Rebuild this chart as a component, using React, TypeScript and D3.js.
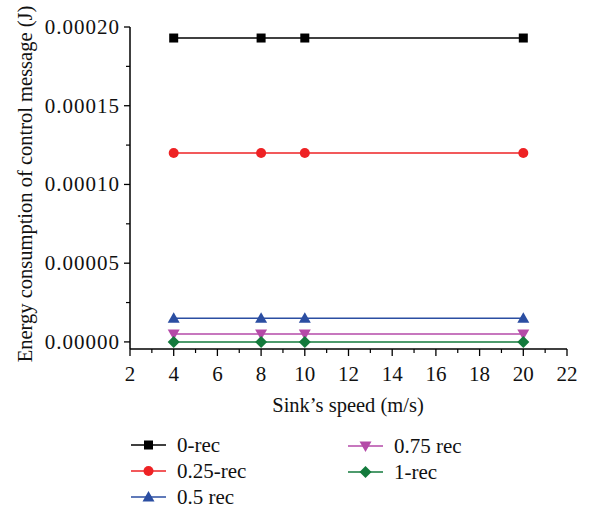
import React from "react";
import * as d3 from "d3";

const speeds = [4, 8, 10, 20];
const seriesNames = ["0-rec", "0.25-rec", "0.5 rec", "0.75 rec", "1-rec"];
const rec0 = [0.000193, 0.000193, 0.000193, 0.000193];
const rec025 = [0.00012, 0.00012, 0.00012, 0.00012];
const rec05 = [0.000015, 0.000015, 0.000015, 0.000015];
const rec075 = [0.000005, 0.000005, 0.000005, 0.000005];
const rec1 = [0, 0, 0, 0];
const xTicks = [2, 4, 6, 8, 10, 12, 14, 16, 18, 20, 22];
const yTicks = [0, 0.00005, 0.0001, 0.00015, 0.0002];

const colors = ["#000000", "#ee2224", "#2b4ea2", "#b54aa8", "#137a3c"];
const symbols = ["square", "circle", "triangle", "triangleDown", "diamond"];

const W = 589, H = 512;
const left = 130, right = 567, top = 27, bottom = 349;
const FONT = "'Liberation Serif', 'Times New Roman', serif";

function Marker({ type, x, y, color }: { type: string; x: number; y: number; color: string }) {
  if (type === "square") return <rect x={x - 4.5} y={y - 4.5} width={9} height={9} fill={color} />;
  if (type === "circle") return <circle cx={x} cy={y} r={5} fill={color} />;
  if (type === "triangle")
    return <path d={`M${x},${y - 6} L${x + 6},${y + 4.5} L${x - 6},${y + 4.5} Z`} fill={color} />;
  if (type === "triangleDown")
    return <path d={`M${x},${y + 6} L${x + 6},${y - 4.5} L${x - 6},${y - 4.5} Z`} fill={color} />;
  return <path d={`M${x},${y - 6} L${x + 6},${y} L${x},${y + 6} L${x - 6},${y} Z`} fill={color} />;
}

export default function App() {
  const x = d3.scaleLinear().domain([2, 22]).range([left, right]);
  const y = d3.scaleLinear().domain([-0.0000045, 0.0002]).range([bottom, top]);
  const data = [rec0, rec025, rec05, rec075, rec1];
  const line = d3.line<number>().x((_, i) => x(speeds[i])).y((d) => y(d));
  const minorX = d3.range(3, 22, 2);
  const minorY = [0.000025, 0.000075, 0.000125, 0.000175];

  const legendItems = [
    { i: 0, lx: 131, ly: 445 },
    { i: 1, lx: 131, ly: 471 },
    { i: 2, lx: 131, ly: 497 },
    { i: 3, lx: 348, ly: 446 },
    { i: 4, lx: 348, ly: 472 },
  ];

  return (
    <svg width={W} height={H} style={{ position: "absolute", left: 0, top: 0, background: "#fff" }} fontFamily={FONT}>
      <rect width={W} height={H} fill="#fff" />
      <line x1={left} x2={left} y1={top} y2={bottom} stroke="#000" strokeWidth={1.5} />
      <line x1={left} x2={right} y1={bottom} y2={bottom} stroke="#000" strokeWidth={1.5} />
      {xTicks.map((t) => (
        <g key={"xt" + t}>
          <line x1={x(t)} x2={x(t)} y1={bottom} y2={bottom + 7} stroke="#000" strokeWidth={1.3} />
          <text x={x(t)} y={bottom + 32} textAnchor="middle" fontSize={21} fill="#111">{t}</text>
        </g>
      ))}
      {minorX.map((t) => (
        <line key={"xm" + t} x1={x(t)} x2={x(t)} y1={bottom} y2={bottom + 4} stroke="#000" strokeWidth={1.2} />
      ))}
      {yTicks.map((t) => (
        <g key={"yt" + t}>
          <line x1={left - 6} x2={left} y1={y(t)} y2={y(t)} stroke="#000" strokeWidth={1.3} />
          <text x={left - 10} y={y(t) + 7} textAnchor="end" fontSize={21} letterSpacing={1} fill="#111">{t.toFixed(5)}</text>
        </g>
      ))}
      {minorY.map((t) => (
        <line key={"ym" + t} x1={left - 4} x2={left} y1={y(t)} y2={y(t)} stroke="#000" strokeWidth={1.2} />
      ))}
      <text x={348} y={412} textAnchor="middle" fontSize={20.5} fill="#111">Sink’s speed (m/s)</text>
      <text transform={`translate(32,184) rotate(-90)`} textAnchor="middle" fontSize={20.5} fill="#111">
        Energy consumption of control message (J)
      </text>
      {data.map((vals, si) => (
        <g key={"s" + si}>
          <path d={line(vals) || ""} fill="none" stroke={colors[si]} strokeWidth={1.5} />
          {vals.map((v, i) => (
            <Marker key={i} type={symbols[si]} x={x(speeds[i])} y={y(v)} color={colors[si]} />
          ))}
        </g>
      ))}
      {legendItems.map(({ i, lx, ly }) => (
        <g key={"lg" + i}>
          <line x1={lx} x2={lx + 35} y1={ly} y2={ly} stroke={colors[i]} strokeWidth={1.5} />
          <Marker type={symbols[i]} x={lx + 17.5} y={ly} color={colors[i]} />
          <text x={lx + 46} y={ly + 7} fontSize={21} fill="#111">{seriesNames[i]}</text>
        </g>
      ))}
    </svg>
  );
}
